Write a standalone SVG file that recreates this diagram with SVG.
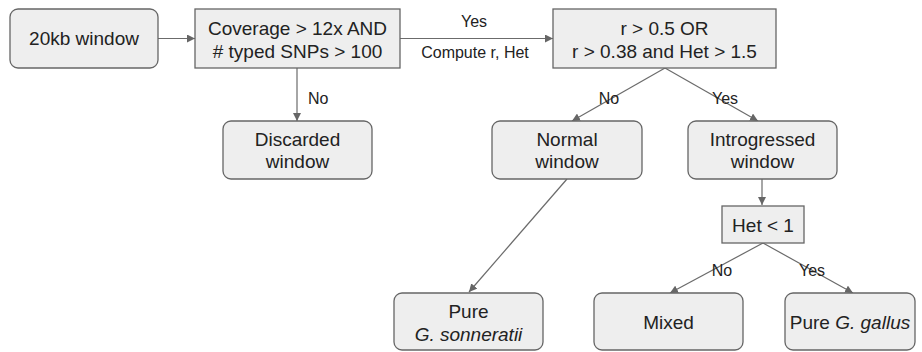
<svg xmlns="http://www.w3.org/2000/svg" width="922" height="352" viewBox="0 0 922 352">
<style>
.box{fill:#eeeeee;stroke:#666666;stroke-width:1.3}
.t{font-family:"Liberation Sans",Arial,sans-serif;font-size:19px;fill:#222222;text-anchor:middle}
.l{font-family:"Liberation Sans",Arial,sans-serif;font-size:16px;fill:#222222}
.c{text-anchor:middle}
.e{fill:none;stroke:#6b6b6b;stroke-width:1.2;marker-end:url(#ah)}
</style>
<defs>
<marker id="ah" viewBox="0 0 10 10" refX="10" refY="5" markerWidth="8" markerHeight="8" markerUnits="userSpaceOnUse" orient="auto">
<path d="M0,0 L10,5 L0,10 z" fill="#666666"/>
</marker>
</defs>
<rect width="922" height="352" fill="#ffffff"/>
<g id="connectors">
<line class="e" x1="158" y1="38.5" x2="195" y2="38.5"/>
<line class="e" x1="400" y1="38.5" x2="553" y2="38.5"/>
<line class="e" x1="297" y1="68" x2="297" y2="121"/>
<line class="e" x1="665" y1="68" x2="572" y2="121"/>
<line class="e" x1="665" y1="68" x2="758" y2="121"/>
<line class="e" x1="567" y1="179" x2="469" y2="292"/>
<line class="e" x1="762" y1="179" x2="762" y2="205"/>
<line class="e" x1="763" y1="243" x2="670" y2="293"/>
<line class="e" x1="763" y1="243" x2="853" y2="293"/>
<text class="l c" x="474" y="27">Yes</text>
<text class="l c" x="475" y="58">Compute r, Het</text>
<text class="l" x="308" y="104">No</text>
<text class="l c" x="609" y="104">No</text>
<text class="l c" x="725" y="104">Yes</text>
<text class="l c" x="722" y="276">No</text>
<text class="l c" x="812" y="276">Yes</text>
</g>
<g id="n-window">
<rect class="box" x="10" y="9" width="148" height="59" rx="8"/>
<text class="t" x="84" y="45">20kb window</text>
</g>
<g id="n-coverage">
<rect class="box" x="195" y="9" width="205" height="59"/>
<text class="t" x="297.5" y="35">Coverage &gt; 12x AND</text>
<text class="t" x="297.5" y="58"># typed SNPs &gt; 100</text>
</g>
<g id="n-discarded">
<rect class="box" x="223" y="121" width="149" height="58" rx="8"/>
<text class="t" x="297.5" y="146">Discarded</text>
<text class="t" x="297.5" y="168">window</text>
</g>
<g id="n-r">
<rect class="box" x="553" y="9" width="223" height="59"/>
<text class="t" x="664.5" y="34.5">r &gt; 0.5 OR</text>
<text class="t" x="664.5" y="57.5">r &gt; 0.38 and Het &gt; 1.5</text>
</g>
<g id="n-normal">
<rect class="box" x="492" y="121" width="150" height="58" rx="8"/>
<text class="t" x="567" y="146">Normal</text>
<text class="t" x="567" y="168">window</text>
</g>
<g id="n-introgressed">
<rect class="box" x="688" y="121" width="149" height="58" rx="8"/>
<text class="t" x="762.5" y="146">Introgressed</text>
<text class="t" x="762.5" y="168">window</text>
</g>
<g id="n-het">
<rect class="box" x="722" y="206" width="82" height="37"/>
<text class="t" x="763" y="231.5">Het &lt; 1</text>
</g>
<g id="n-sonneratii">
<rect class="box" x="394" y="293" width="149" height="57" rx="8"/>
<text class="t" x="468.5" y="318">Pure</text>
<text class="t" x="468.5" y="340.5" font-style="italic">G. sonneratii</text>
</g>
<g id="n-mixed">
<rect class="box" x="594" y="293" width="149" height="57" rx="8"/>
<text class="t" x="668.5" y="329">Mixed</text>
</g>
<g id="n-gallus">
<rect class="box" x="785" y="293" width="130" height="57" rx="8"/>
<text class="t" x="850" y="328.5">Pure <tspan font-style="italic">G. gallus</tspan></text>
</g>
</svg>
